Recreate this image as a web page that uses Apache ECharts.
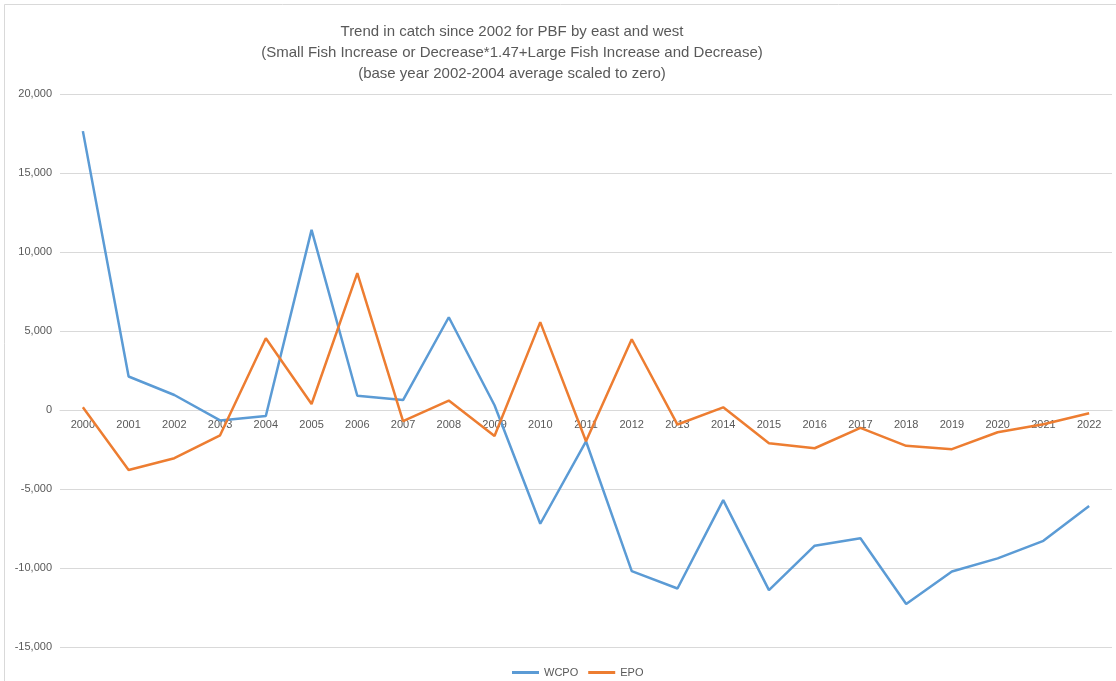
<!DOCTYPE html>
<html>
<head>
<meta charset="utf-8">
<script src="https://cdn.jsdelivr.net/npm/echarts@6/dist/echarts.min.js"></script>
<style>
html,body{margin:0;padding:0;background:#fff;}
#c{width:1116px;height:681px;}
</style>
</head>
<body>
<div id="c"></div>
<script>
const years = ['2000','2001','2002','2003','2004','2005','2006','2007','2008','2009','2010','2011','2012','2013','2014','2015','2016','2017','2018','2019','2020','2021','2022'];
const wcpo = [17650, 2120, 950, -660, -380, 11400, 900, 630, 5870, 300, -7200, -1980, -10200, -11300, -5700, -11400, -8590, -8120, -12280, -10220, -9390, -8280, -6080];
const epo = [180, -3800, -3050, -1600, 4540, 380, 8660, -700, 600, -1650, 5560, -1980, 4480, -920, 170, -2110, -2420, -1130, -2270, -2480, -1410, -900, -210];
const titleLines = ['Trend in catch since 2002 for PBF by east and west','(Small Fish Increase or Decrease*1.47+Large Fish Increase and Decrease)','(base year 2002-2004 average scaled to zero)'];
const yMin = -15000, yMax = 20000;

const FONT = '"Liberation Sans Narrow", "Liberation Sans", Arial, sans-serif';
const gridTop = 94, gridBottom = 34, H = 681;
const plotH = H - gridTop - gridBottom;
// move category axis up to the value-axis zero line
const zeroOffset = -plotH * (0 - yMin) / (yMax - yMin);

const chart = echarts.init(document.getElementById('c'), null, {renderer:'canvas'});
chart.setOption({
  backgroundColor:'#fff',
  animation:false,
  textStyle:{fontFamily:FONT},
  title:{
    text: titleLines.join('\n'),
    left: 507, top: 16, textAlign:'center',
    textStyle:{fontFamily:FONT, fontSize:15, fontWeight:'normal', color:'#595959', lineHeight:21}
  },
  graphic:[{type:'rect', shape:{x:4.5,y:4.5,width:1112,height:680}, style:{fill:'none', stroke:'#d9d9d9', lineWidth:1}, silent:true}],
  legend:{
    data:['WCPO','EPO'], top:662, left:507, itemWidth:27, itemHeight:3, itemGap:10,
    icon:'rect',
    textStyle:{fontFamily:FONT, fontSize:11, color:'#595959'}
  },
  grid:{left:60, right:4, top:gridTop, bottom:gridBottom, containLabel:false},
  xAxis:{
    type:'category', data:years, boundaryGap:true, offset: zeroOffset,
    axisLine:{show:true, onZero:false, lineStyle:{color:'#d9d9d9', width:1}},
    axisTick:{show:false},
    axisLabel:{fontFamily:FONT, fontSize:11, color:'#595959', margin:9, interval:0},
    splitLine:{show:false}
  },
  yAxis:{
    type:'value', min:yMin, max:yMax, interval:5000,
    axisLine:{show:false}, axisTick:{show:false},
    axisLabel:{fontFamily:FONT, fontSize:11, color:'#595959', margin:8,
      formatter:v=>v.toLocaleString('en-US')},
    splitLine:{lineStyle:{color:'#d9d9d9', width:1}}
  },
  series:[
    {name:'WCPO', type:'line', data:wcpo, symbol:'none', lineStyle:{color:'#5B9BD5', width:2.5}, itemStyle:{color:'#5B9BD5'}, z:3},
    {name:'EPO', type:'line', data:epo, symbol:'none', lineStyle:{color:'#ED7D31', width:2.5}, itemStyle:{color:'#ED7D31'}, z:4}
  ]
});
</script>
</body>
</html>
